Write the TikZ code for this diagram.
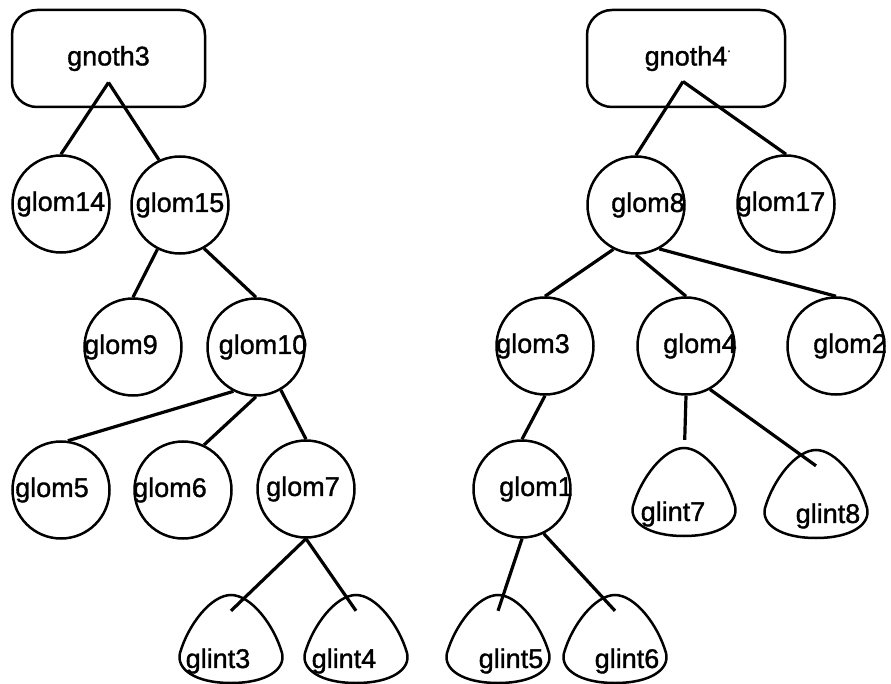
\documentclass[tikz,border=0pt]{standalone}
\usepackage{fontspec}
\setmainfont{Liberation Sans}[FakeBold=1.2]
\newcommand{\blob}[1]{\draw [line width=2.5pt] ([yshift=44pt]#1.center) .. controls +(20pt,0) and +(-8pt,28pt) .. ([xshift=51pt,yshift=-14pt]#1.center) .. controls +(4pt,-16pt) and +(36pt,0) .. ([yshift=-44pt]#1.center) .. controls +(-36pt,0) and +(-4pt,-16pt) .. ([xshift=-51pt,yshift=-14pt]#1.center) .. controls +(8pt,28pt) and +(-20pt,0) .. cycle;}
\begin{document}
\begin{tikzpicture}[x=1pt,y=-1pt,font=\fontsize{27}{31}\selectfont,
  gnoth/.style={draw,line width=2.5pt,rounded corners=25pt,minimum height=97pt,inner sep=0pt},
  glom/.style={draw,circle,line width=2.5pt,minimum size=97pt,inner sep=0pt},
  glint/.style={minimum width=100pt,minimum height=56pt,inner sep=0pt},
  edge/.style={line width=3.2pt}]
\useasboundingbox (0,0) rectangle (891,684);
% left tree
\node [gnoth,minimum width=193pt] (gnoth3) at (108.5,58.5) {gnoth3};
\coordinate (apex3) at ([yshift=-24pt]gnoth3.center);
\node [glom] (glom14) at (61,204) {glom14};
\node [glom] (glom15) at (180,205) {glom15};
\node [glom,label={[xshift=-12pt]center:glom9}] (glom9) at (133,347) {};
\node [glom,label={[xshift=7pt]center:glom10}] (glom10) at (256,347) {};
\node [glom,label={[xshift=-9pt]center:glom5}] (glom5) at (61,490) {};
\node [glom,label={[xshift=-13pt]center:glom6}] (glom6) at (183,490) {};
\node [glom,label={[xshift=-3pt]center:glom7}] (glom7) at (306,489) {};
\node [glint,label={[xshift=-13pt,yshift=-22pt]center:glint3}] (glint3) at (231,639) {};
\node [glint,label={[xshift=-12pt,yshift=-22pt]center:glint4}] (glint4) at (356,639) {};
\blob{glint3}
\blob{glint4}
\draw [edge] (apex3) -- (glom14.north);
\draw [edge] (apex3) -- (glom15.115);
\draw [edge] (glom15.-117) -- (glom9.north);
\draw [edge] (glom15.-61) -- (glom10.north);
\draw [edge] (glom10.-117) -- (glom5.82);
\draw [edge] (glom10.south) -- (glom6.65);
\draw [edge] (glom10.-60) -- (glom7.north);
\draw [edge] (glom7.south) -- (glint3.north);
\draw [edge] (glom7.south) -- (glint4.north);
% right tree
\node [gnoth,minimum width=198pt] (gnoth4) at (686,58.5) {gnoth4\rlap{\raisebox{0.5em}{\fontsize{12}{12}\selectfont.}}};
\coordinate (apex4) at ([xshift=-3pt,yshift=-23pt]gnoth4.center);
\node [glom,label={[xshift=12pt]center:glom8}] (glom8) at (636,205) {};
\node [glom,label={[xshift=-5pt]center:glom17}] (glom17) at (786,204) {};
\node [glom,label={[xshift=-12pt]center:glom3}] (glom3) at (545,346) {};
\node [glom,label={[xshift=14pt]center:glom4}] (glom4) at (686,346) {};
\node [glom,label={[xshift=14pt]center:glom2}] (glom2) at (836,346) {};
\node [glom,label={[xshift=14pt]center:glom1}] (glom1) at (522,489) {};
\node [glint,label={[xshift=-11pt,yshift=-22pt]center:glint7}] (glint7) at (684,492) {};
\node [glint,label={[xshift=12pt,yshift=-22pt]center:glint8}] (glint8) at (816,494) {};
\node [glint,label={[xshift=13pt,yshift=-22pt]center:glint5}] (glint5) at (498,639) {};
\node [glint,label={[xshift=12pt,yshift=-22pt]center:glint6}] (glint6) at (615,639) {};
\blob{glint7}
\blob{glint8}
\blob{glint5}
\blob{glint6}
\draw [edge] (apex4) -- (glom8.north);
\draw [edge] (apex4) -- (glom17.north);
\draw [edge] (glom8.-117) -- (glom3.north);
\draw [edge] (glom8.south) -- (glom4.north);
\draw [edge] (glom8.-62) -- (glom2.north);
\draw [edge] (glom3.south) -- (glom1.north);
\draw [edge,shorten >=24pt] (glom4.south) -- (glint7.north);
\draw [edge] (glom4.-61) -- (glint8.north);
\draw [edge] (glom1.south) -- (glint5.north);
\draw [edge] (glom1.-64) -- (glint6.north);
\end{tikzpicture}
\end{document}
